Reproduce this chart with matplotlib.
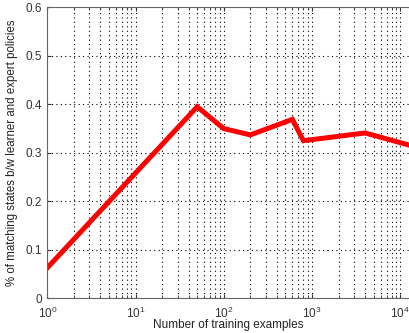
import matplotlib
matplotlib.use('Agg')
import matplotlib.pyplot as plt
from matplotlib.ticker import LogLocator
import numpy as np

# training set sizes and matching fraction
n_examples = [1, 50, 100, 200, 600, 800, 4000, 12600]
match_frac = [0.063, 0.395, 0.350, 0.337, 0.369, 0.325, 0.341, 0.316]

y_ticks = [0, 0.1, 0.2, 0.3, 0.4, 0.5, 0.6]
y_labels = ['0', '0.1', '0.2', '0.3', '0.4', '0.5', '0.6']

plt.rcParams['font.family'] = ['Liberation Sans', 'DejaVu Sans']
plt.rcParams['mathtext.fontset'] = 'custom'
plt.rcParams['mathtext.rm'] = 'Liberation Sans'

fig = plt.figure(figsize=(4.09, 3.33), dpi=100)
ax = fig.add_axes([0.1157, 0.104, 1.0 - 0.1157, 0.978 - 0.104])

ax.semilogx(n_examples, match_frac, color='#ff0000', linewidth=3.6, solid_joinstyle='miter')

ax.set_xlim(1, 10 ** 4.1)
ax.set_ylim(0, 0.6)
ax.set_yticks(y_ticks)
ax.set_yticklabels(y_labels)
ax.xaxis.set_major_locator(LogLocator(base=10, numticks=10))
ax.xaxis.set_minor_locator(LogLocator(base=10, subs=np.arange(2, 10), numticks=20))

ax.grid(True, which='major', color='black', linestyle=(0, (1, 3)), linewidth=0.8)
ax.grid(True, which='minor', axis='x', color='black', linestyle=(0, (1, 3)), linewidth=0.8)

ax.tick_params(which='both', direction='in', top=True, right=False,
               labelsize=8.5, colors='#333333')
ax.tick_params(which='major', length=3)
ax.tick_params(which='minor', length=2)
ax.tick_params(axis='x', which='major', pad=5)
ax.tick_params(axis='y', which='major', pad=4)
for side in ['left', 'bottom', 'top']:
    ax.spines[side].set_color('#666666')
ax.spines['right'].set_visible(False)

ax.set_xlabel('Number of training examples', fontsize=8.5, color='#222222', labelpad=-1)
ax.set_ylabel('% of matching states b/w learner and expert policies', fontsize=8.3,
              color='#222222', labelpad=5)

fig.savefig('out.png', dpi=100)
